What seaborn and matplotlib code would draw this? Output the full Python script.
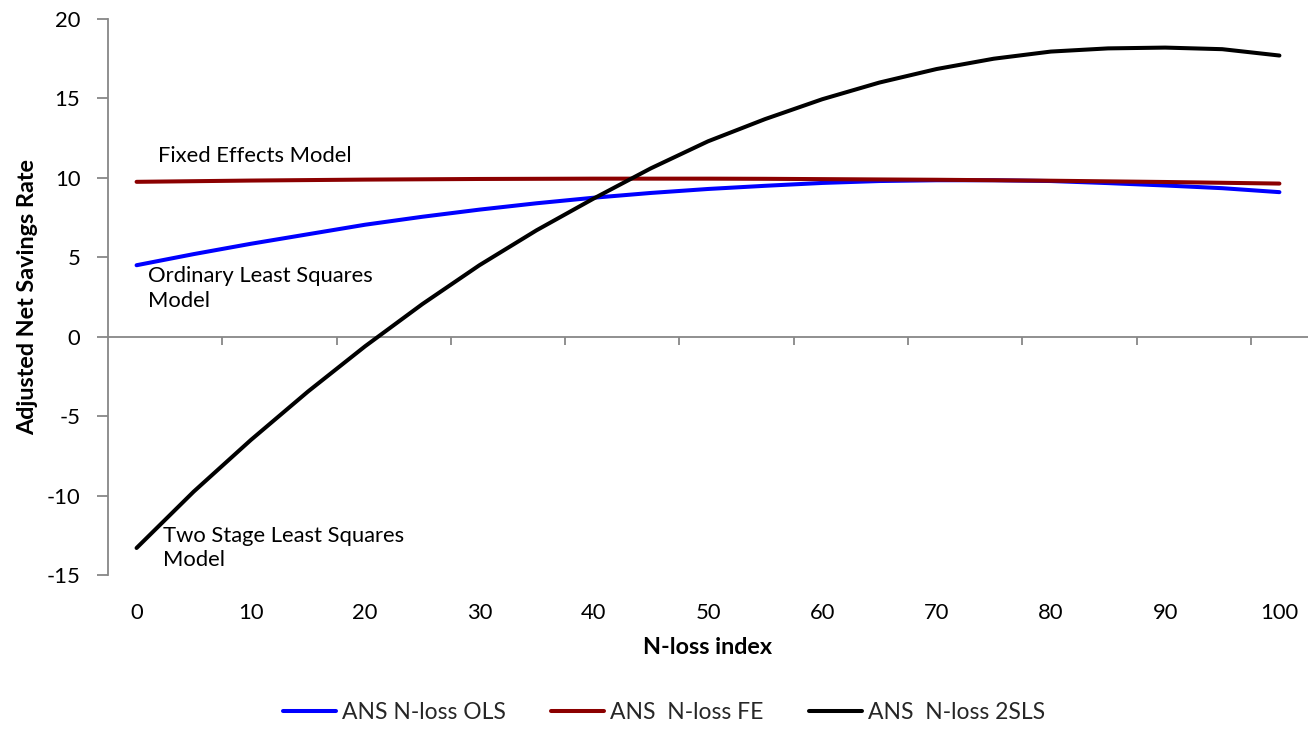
import numpy as np
import pandas as pd
import matplotlib
matplotlib.use("Agg")
import matplotlib.pyplot as plt
import seaborn as sns

# ---- data ----
n_loss = [0, 5, 10, 15, 20, 25, 30, 35, 40, 45, 50, 55, 60, 65, 70, 75, 80, 85, 90, 95, 100]
ans_ols = [4.5, 5.2, 5.85, 6.45, 7.05, 7.55, 8.0, 8.4, 8.75, 9.05, 9.3, 9.5, 9.68,
           9.8, 9.85, 9.85, 9.8, 9.67, 9.52, 9.35, 9.1]
ans_fe = [9.75, 9.79, 9.83, 9.86, 9.89, 9.91, 9.93, 9.94, 9.95, 9.95, 9.95, 9.94, 9.92,
          9.9, 9.88, 9.85, 9.82, 9.78, 9.74, 9.69, 9.64]
ans_2sls = [-13.3, -9.75, -6.5, -3.45, -0.6, 2.05, 4.5, 6.7, 8.7, 10.6, 12.3, 13.7, 14.95,
            16.0, 16.85, 17.5, 17.95, 18.15, 18.2, 18.1, 17.7]
series_names = ["ANS N-loss OLS", "ANS  N-loss FE", "ANS  N-loss 2SLS"]
series_colors = ["#0000FF", "#8B0000", "#000000"]
x_tick_labels = [0, 10, 20, 30, 40, 50, 60, 70, 80, 90, 100]
y_ticks = [-15, -10, -5, 0, 5, 10, 15, 20]
annotations = [("Fixed Effects Model", 1.85, 11.4),
               ("Ordinary Least Squares\nModel", 1.0, 3.05),
               ("Two Stage Least Squares\nModel", 2.3, -13.3)]

sns.set_theme(style="white")
plt.rcParams['font.family'] = ['Lato', 'DejaVu Sans']
plt.rcParams['axes.unicode_minus'] = False

df = pd.DataFrame({"N-loss index": n_loss,
                   series_names[0]: ans_ols,
                   series_names[1]: ans_fe,
                   series_names[2]: ans_2sls})
long = df.melt(id_vars="N-loss index", var_name="series", value_name="value")

gray = "#878787"
fs = 15.8
fig = plt.figure(figsize=(13.08, 7.39), dpi=100)
ax = fig.add_axes([108 / 1308, (739 - 575) / 739, 1200 / 1308, 556 / 739])

sns.lineplot(data=long, x="N-loss index", y="value", hue="series",
             hue_order=series_names, palette=series_colors, linewidth=2.9,
             ax=ax, legend=False, solid_capstyle="round")

ax.set_xlim(-2.5, 102.5)
ax.set_ylim(-15, 20)

# spines
for s in ["top", "right", "bottom"]:
    ax.spines[s].set_visible(False)
ax.spines["left"].set_color(gray)
ax.spines["left"].set_linewidth(1.3)

# y ticks
ax.set_yticks(y_ticks)
ax.tick_params(axis="y", left=True, direction="out", length=8, width=1.3,
               color=gray, labelcolor="black", labelsize=fs, pad=12)
# x tick labels at bottom (no tick marks)
ax.set_xticks(x_tick_labels)
ax.tick_params(axis="x", bottom=True, length=0, labelcolor="black", labelsize=fs, pad=20)

# zero line with category-boundary tick marks
sec = ax.secondary_xaxis(15 / 35)
sec.set_xticks(np.arange(7.5, 100, 10))
sec.tick_params(axis="x", bottom=True, top=False, direction="out", length=6, width=1.3,
                color=gray, labelbottom=False, labeltop=False)
for s in sec.spines.values():
    s.set_visible(False)
sec.spines["bottom"].set_visible(True)
sec.spines["bottom"].set_color(gray)
sec.spines["bottom"].set_linewidth(1.3)

ax.set_xlabel("N-loss index", fontsize=16.8, fontweight="bold", color="black")
ax.xaxis.set_label_coords(0.5, -0.112)
ax.set_ylabel("Adjusted Net Savings Rate", fontsize=16.8, fontweight="bold", color="black")
ax.yaxis.set_label_coords(-0.058, 0.5)

for txt, xx, yy in annotations:
    ax.text(xx, yy, txt, fontsize=fs, color="black", ha="left", va="center",
            linespacing=1.3)

handles = [plt.Line2D([], [], color=c, linewidth=2.9) for c in series_colors]
fig.legend(handles, series_names, loc="center", bbox_to_anchor=(664 / 1308, 0.0365),
           ncol=3, frameon=False, fontsize=16.5, handlelength=2.3, handletextpad=0.25,
           columnspacing=2.0)

fig.savefig("out.png", dpi=100)
